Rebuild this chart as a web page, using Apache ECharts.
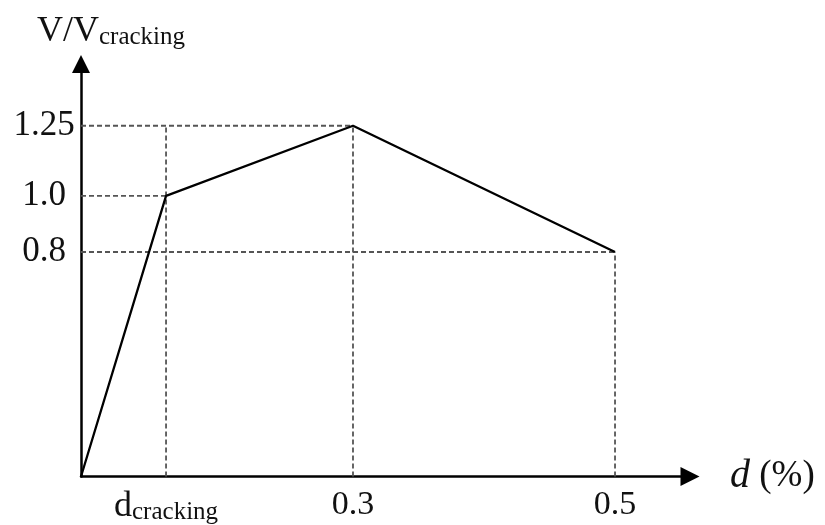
<!DOCTYPE html>
<html>
<head>
<meta charset="utf-8">
<script src="https://cdn.jsdelivr.net/npm/echarts@6/dist/echarts.min.js"></script>
<style>html,body{margin:0;padding:0;background:#fff}#c{width:825px;height:525px}</style>
</head>
<body>
<div id="c"></div>
<script>
// Schematic positions along the d axis as drawn (the axis is not to scale)
const curveX = [0, 0.0938, 0.3, 0.589];
const curveY = [0, 1.0, 1.25, 0.8];
// x tick positions and their labels
const xTickPos = [0.0938, 0.3, 0.589];
const xTickLabels = ['{d|d}{s|cracking}', '0.3', '0.5'];
// y tick positions and labels
const yTickPos = [0.8, 1.0, 1.25];
const yTickLabels = ['0.8', '1.0', '1.25'];
// dashed guides: horizontal [level, endX], vertical [x, topY]
const guideH = [[1.25, 0.3], [1.0, 0.0938], [0.8, 0.589]];
const guideV = [[0.0938, 1.25], [0.3, 1.25], [0.589, 0.8]];

const serif = 'Liberation Serif';
const chart = echarts.init(document.getElementById('c'), null, {renderer: 'canvas'});

const dash = {color: '#555', width: 1.8, type: [5, 3]};
const guideSeries = [];
guideH.forEach(g => guideSeries.push({
  type: 'line', data: [[0, g[0]], [g[1], g[0]]], symbol: 'none', silent: true,
  lineStyle: dash, z: 1
}));
guideV.forEach(g => guideSeries.push({
  type: 'line', data: [[g[0], 0], [g[0], g[1]]], symbol: 'none', silent: true,
  lineStyle: dash, z: 1
}));

chart.setOption({
  animation: false,
  grid: {left: 81, right: 135, top: 64, bottom: 48, containLabel: false},
  xAxis: {
    type: 'value', min: 0, max: 0.6717,
    splitLine: {show: false},
    axisTick: {show: false},
    axisLine: {show: true, onZero: false, symbol: ['none', 'triangle'], symbolSize: [19, 19],
      lineStyle: {color: '#000', width: 2.5}},
    axisLabel: {
      customValues: xTickPos,
      formatter: v => { const i = xTickPos.indexOf(v); return i >= 0 ? xTickLabels[i] : ''; },
      margin: 29, verticalAlign: 'middle',
      fontFamily: serif, fontSize: 34, color: '#111',
      rich: {
        d: {fontFamily: serif, fontSize: 36, color: '#111', verticalAlign: 'bottom'},
        s: {fontFamily: serif, fontSize: 25, color: '#111', padding: [14, 0, 0, 0]}
      }
    },
    name: '{i|d} (%)', nameLocation: 'end', nameGap: 40,
    nameTextStyle: {fontFamily: serif, fontSize: 37, color: '#111',
      rich: {i: {fontFamily: serif, fontStyle: 'italic', fontSize: 40, color: '#111'}}}
  },
  yAxis: {
    type: 'value', min: 0, max: 1.47,
    splitLine: {show: false},
    axisTick: {show: false},
    axisLine: {show: true, onZero: false, symbol: ['none', 'triangle'], symbolSize: [18, 18],
      lineStyle: {color: '#000', width: 2.5}},
    axisLabel: {
      customValues: yTickPos,
      formatter: v => { const i = yTickPos.indexOf(v); return i >= 0 ? yTickLabels[i] : ''; },
      margin: 37, align: 'center',
      fontFamily: serif, fontSize: 35, color: '#111'
    },
    name: 'V/V{s|cracking}', nameLocation: 'end', nameGap: 14,
    nameTextStyle: {fontFamily: serif, fontSize: 36, color: '#111', padding: [0, 0, 0, 60],
      rich: {s: {fontFamily: serif, fontSize: 25, color: '#111', padding: [12, 0, 0, 0]}}}
  },
  series: guideSeries.concat([{
    type: 'line', data: curveX.map((x, i) => [x, curveY[i]]), symbol: 'none',
    lineStyle: {color: '#000', width: 2.3}, z: 3
  }])
});
</script>
</body>
</html>
